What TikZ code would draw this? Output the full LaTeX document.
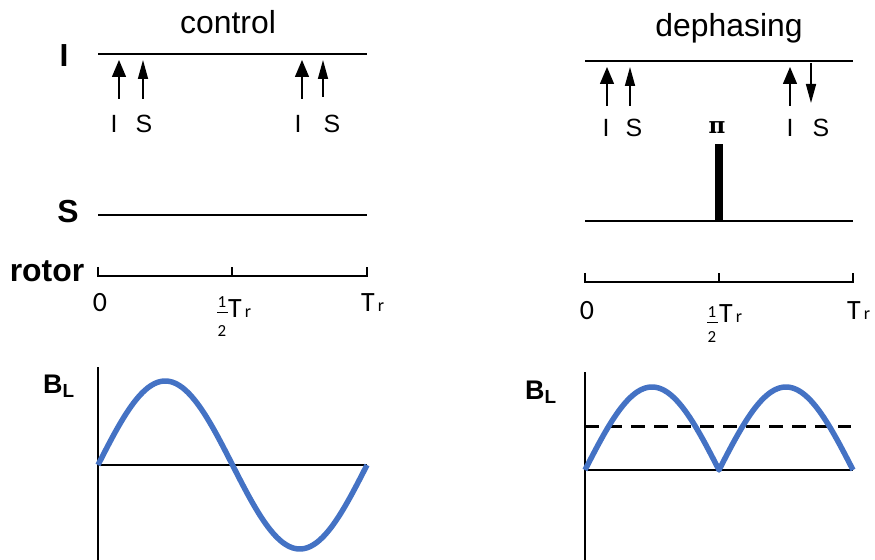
\documentclass[tikz,border=0pt]{standalone}
\usepackage{fontspec}
\setmainfont{Liberation Sans}
\newfontfamily\calfont{Carlito}
\newfontfamily\pifont{DejaVu Serif}
\usetikzlibrary{arrows.meta}
\definecolor{curveblue}{HTML}{4472C4}
\tikzset{
  rail/.style={line width=2.4bp},
  pulseI/.style={line width=1.4bp,-{Triangle[width=14bp,length=17bp]}},
  pulseS/.style={line width=1.6bp,-{Triangle[width=10bp,length=19bp]}},
  lbl/.style={font=\fontsize{25}{30}\selectfont,inner sep=0,anchor=base},
  boldlbl/.style={font=\bfseries\fontsize{32}{38}\selectfont,inner sep=0,anchor=base},
  ttl/.style={font=\fontsize{32}{38}\selectfont,inner sep=0,anchor=base},
  tlbl/.style={font=\calfont\fontsize{28}{32}\selectfont,inner sep=0,anchor=base west},
  numlbl/.style={font=\calfont\fontsize{28}{32}\selectfont,inner sep=0,anchor=base},
  fraclbl/.style={font=\calfont\fontsize{17}{19}\selectfont,inner sep=0,anchor=base},
  axisline/.style={line width=2bp},
  tick/.style={line width=2.4bp},
  curve/.style={line width=5.5bp,color=curveblue,line join=round},
}
\newcommand{\Tsub}{T{\fontsize{18}{20}\selectfont\,r}}
\newcommand{\BLsub}[1]{B\raisebox{-4bp}{\fontsize{19}{22}\selectfont L}}
\begin{document}
\begin{tikzpicture}[x=1bp,y=-1bp]
\useasboundingbox (0,0) rectangle (875,560);

% ================= LEFT: control =================
\node[ttl] (ctl) at (228,34) {control};
\node[boldlbl] (lI) at (64,67) {I};
\node[boldlbl] (lS) at (68,223) {S};
\node[boldlbl] (lrot) at (47,282) {rotor};

\coordinate (LI0) at (98,54); \coordinate (LI1) at (367,54);
\draw[rail] (LI0) -- (LI1);
\coordinate (LS0) at (98,215); \coordinate (LS1) at (367,215);
\draw[rail] (LS0) -- (LS1);

% pulses
\coordinate (la1b) at (119,99); \coordinate (la1t) at (119,60);
\coordinate (la2b) at (143,99); \coordinate (la2t) at (143,60);
\coordinate (la3b) at (302,99); \coordinate (la3t) at (302,60);
\coordinate (la4b) at (323,97); \coordinate (la4t) at (323,60);
\draw[pulseI] (la1b) -- (la1t);
\draw[pulseS] (la2b) -- (la2t);
\draw[pulseI] (la3b) -- (la3t);
\draw[pulseS] (la4b) -- (la4t);
\node[lbl] (lt1) at (114,133) {I};
\node[lbl] (lt2) at (144,133) {S};
\node[lbl] (lt3) at (298,133) {I};
\node[lbl] (lt4) at (332,133) {S};

% rotor axis
\coordinate (LR0) at (98,276); \coordinate (LRm) at (232,276); \coordinate (LR1) at (367,276);
\coordinate (LR0t) at (98,267); \coordinate (LRmt) at (232,267); \coordinate (LR1t) at (367,267);
\draw[tick] (LR0t) -- (LR0) -- (LR1) -- (LR1t);
\draw[tick] (LRm) -- (LRmt);
\node[numlbl] (l0) at (100,312) {0};
\node[fraclbl] (lf1) at (222,308) {1};
\node[fraclbl] (lf2) at (222,337) {2};
\coordinate (lfb0) at (217,312.5); \coordinate (lfb1) at (228,312.5);
\draw[line width=1.4bp] (lfb0) -- (lfb1);
\node[tlbl] (lhT) at (228,318) {\Tsub};
\node[tlbl] (lTr) at (361,312) {\Tsub};

% B_L plot
\node[font=\bfseries\fontsize{27}{32}\selectfont,inner sep=0,anchor=base west] (lBL) at (43,393) {\BLsub{}};
\coordinate (LAv0) at (98,367); \coordinate (LAv1) at (98,560);
\coordinate (LAh0) at (98,465); \coordinate (LAh1) at (367,465);
\draw[axisline] (LAv0) -- (LAv1);
\draw[axisline] (LAh0) -- (LAh1);
\draw[curve] plot[domain=0:360,samples=121] ({98+\x/360*269},{465-84*sin(\x)});

% ================= RIGHT: dephasing =================
\node[ttl] (dph) at (729,37) {dephasing};
\coordinate (RI0) at (585,61); \coordinate (RI1) at (853,61);
\draw[rail] (RI0) -- (RI1);
\coordinate (RS0) at (585,221); \coordinate (RS1) at (853,221);
\draw[rail] (RS0) -- (RS1);

\coordinate (ra1b) at (607,106); \coordinate (ra1t) at (607,67);
\coordinate (ra2b) at (630,106); \coordinate (ra2t) at (630,67);
\coordinate (ra3b) at (790,106); \coordinate (ra3t) at (790,67);
\coordinate (ra4b) at (811,63); \coordinate (ra4t) at (811,103);
\draw[pulseI] (ra1b) -- (ra1t);
\draw[pulseS] (ra2b) -- (ra2t);
\draw[pulseI] (ra3b) -- (ra3t);
\draw[pulseS] (ra4b) -- (ra4t);
\node[lbl] (rt1) at (606,137) {I};
\node[lbl] (rt2) at (634,137) {S};
\node[lbl] (rt3) at (790,137) {I};
\node[lbl] (rt4) at (821,137) {S};

% pi pulse
\node[font=\pifont\bfseries\fontsize{23}{26}\selectfont,inner sep=0,anchor=base] (rpi) at (717,134) {π};
\node[fill=black,inner sep=0,minimum width=8bp,minimum height=77bp,anchor=south] (rbar) at (719,221) {};

% rotor axis
\coordinate (RR0) at (585,282); \coordinate (RRm) at (719,282); \coordinate (RR1) at (853,282);
\coordinate (RR0t) at (585,273); \coordinate (RRmt) at (719,273); \coordinate (RR1t) at (853,273);
\draw[tick] (RR0t) -- (RR0) -- (RR1) -- (RR1t);
\draw[tick] (RRm) -- (RRmt);
\node[numlbl] (r0) at (587,320) {0};
\node[fraclbl] (rf1) at (712,318) {1};
\node[fraclbl] (rf2) at (712,343) {2};
\coordinate (rfb0) at (707,322.5); \coordinate (rfb1) at (718,322.5);
\draw[line width=1.4bp] (rfb0) -- (rfb1);
\node[tlbl] (rhT) at (719,323) {\Tsub};
\node[tlbl] (rTr) at (847,320) {\Tsub};

% B_L plot
\node[font=\bfseries\fontsize{27}{32}\selectfont,inner sep=0,anchor=base west] (rBL) at (525,399) {\BLsub{}};
\coordinate (RAv0) at (585,372); \coordinate (RAv1) at (585,560);
\coordinate (RAh0) at (585,470); \coordinate (RAh1) at (853,470);
\coordinate (RD0) at (585,426); \coordinate (RD1) at (851,426);
\draw[axisline] (RAv0) -- (RAv1);
\draw[axisline] (RAh0) -- (RAh1);
\draw[line width=3bp,dash pattern=on 14bp off 9bp] (RD0) -- (RD1);
\draw[curve] plot[domain=0:360,samples=121] ({585+\x/360*268},{470-83*abs(sin(\x))});
\end{tikzpicture}
\end{document}
